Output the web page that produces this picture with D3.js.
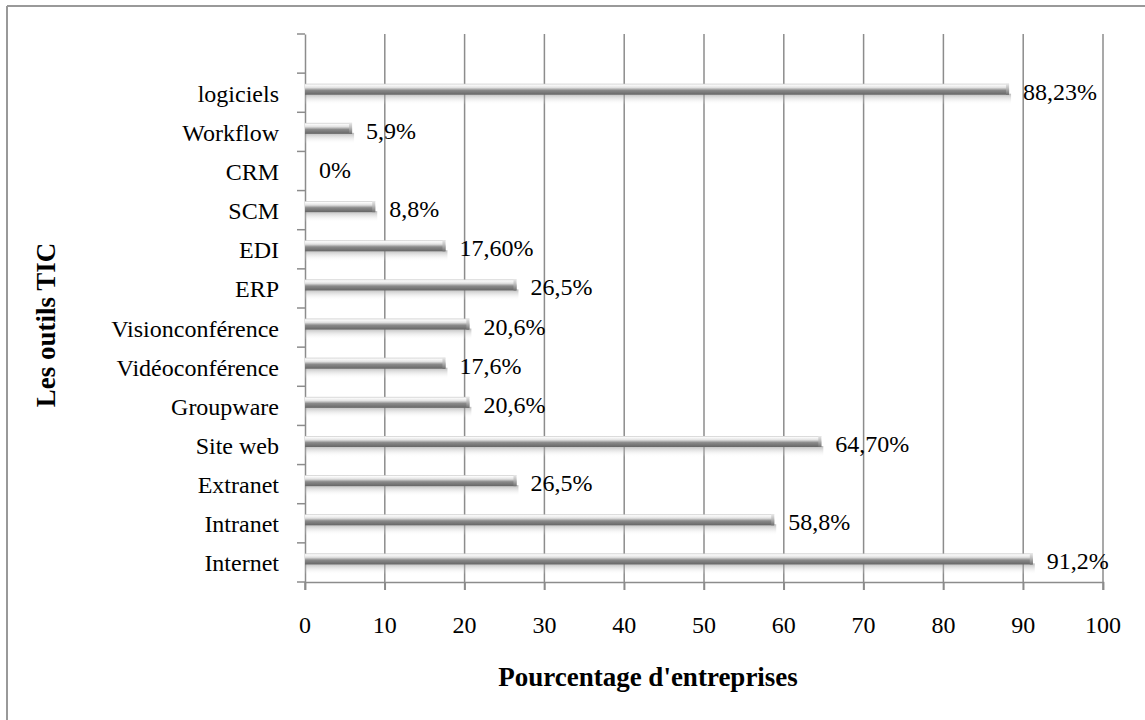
<!DOCTYPE html>
<html><head><meta charset="utf-8">
<script src="https://cdn.jsdelivr.net/npm/d3@7"></script>
<style>body{margin:0;background:#fff}svg{display:block}</style>
</head><body>
<svg id="c" width="1145" height="720"></svg>
<script>
const categories = ["", "logiciels", "Workflow", "CRM", "SCM", "EDI", "ERP", "Visionconférence", "Vidéoconférence", "Groupware", "Site web", "Extranet", "Intranet", "Internet"];
const values = [null, 88.23, 5.9, 0, 8.8, 17.6, 26.5, 20.6, 17.6, 20.6, 64.7, 26.5, 58.8, 91.2];
const valueLabels = ["", "88,23%", "5,9%", "0%", "8,8%", "17,60%", "26,5%", "20,6%", "17,6%", "20,6%", "64,70%", "26,5%", "58,8%", "91,2%"];
const xTicks = [0, 10, 20, 30, 40, 50, 60, 70, 80, 90, 100];
const xTitle = "Pourcentage d'entreprises";
const yTitle = "Les outils TIC";

const svg = d3.select("#c");
const SX = 1.0;
const FS = 24;
const font = "'Liberation Serif','Times New Roman',serif";
const grid = "#8c8c8c";

// outer frame
svg.append("line").attr("x1",7).attr("x2",1145).attr("y1",6).attr("y2",6).attr("stroke","#999").attr("stroke-width",2);
svg.append("line").attr("x1",7).attr("x2",7).attr("y1",6).attr("y2",720).attr("stroke","#999").attr("stroke-width",2);

const x = d3.scaleLinear().domain([0,100]).range([305,1103]);
const y = d3.scaleBand().domain(categories).range([34,582]);

const defs = svg.append("defs");
const g1 = defs.append("linearGradient").attr("id","bar").attr("x1",0).attr("x2",0).attr("y1",0).attr("y2",1);
[[0,"#c8c8c8"],[0.12,"#fbfbfb"],[0.35,"#e2e2e2"],[0.6,"#8a8a8a"],[1,"#666666"]].forEach(s=>g1.append("stop").attr("offset",s[0]).attr("stop-color",s[1]));
const g2 = defs.append("linearGradient").attr("id","shad").attr("x1",0).attr("x2",0).attr("y1",0).attr("y2",1);
g2.append("stop").attr("offset",0).attr("stop-color","#8a8a8a").attr("stop-opacity",0.6);
g2.append("stop").attr("offset",1).attr("stop-color","#ffffff").attr("stop-opacity",0);
const g3 = defs.append("linearGradient").attr("id","cap").attr("x1",0).attr("x2",0).attr("y1",0).attr("y2",1);
[[0,"#e8e8e8"],[0.4,"#c0c0c0"],[1,"#707070"]].forEach(s=>g3.append("stop").attr("offset",s[0]).attr("stop-color",s[1]));

// vertical gridlines
svg.append("g").selectAll("line").data(xTicks.slice(1)).join("line")
  .attr("x1",d=>x(d)).attr("x2",d=>x(d)).attr("y1",y.range()[0]).attr("y2",y.range()[1]+8)
  .attr("stroke",grid).attr("stroke-width",1.5);

// x axis
const xAxis = svg.append("g").attr("transform",`translate(0,${y.range()[1]})`)
  .call(d3.axisBottom(x).tickValues(xTicks).tickSize(8).tickFormat(""));
xAxis.select(".domain").attr("stroke",grid).attr("stroke-width",1.5);
xAxis.selectAll(".tick line").attr("stroke",grid).attr("stroke-width",1.5);

// y axis
const yAxis = svg.append("g").attr("transform",`translate(${x(0)},0)`)
  .call(d3.axisLeft(y).tickSize(0).tickFormat(""));
yAxis.select(".domain").attr("stroke",grid).attr("stroke-width",1.5);
const boundaries = categories.map(c=>y(c)).concat([y.range()[1]]);
svg.append("g").selectAll("line").data(boundaries).join("line")
  .attr("x1",x(0)-8).attr("x2",x(0)).attr("y1",d=>d).attr("y2",d=>d)
  .attr("stroke",grid).attr("stroke-width",1.5);
svg.append("line").attr("x1",x(0)).attr("x2",x(0)).attr("y1",y.range()[1]).attr("y2",y.range()[1]+8).attr("stroke",grid).attr("stroke-width",1.5);

// x tick labels
svg.append("g").selectAll("text").data(xTicks).join("text")
  .attr("transform",d=>`translate(${x(d)},633) scale(${SX},1)`)
  .attr("text-anchor","middle").attr("font-family",font).attr("font-size",FS).text(d=>d);

// y category labels
svg.append("g").selectAll("text").data(categories).join("text")
  .attr("transform",d=>`translate(279,${y(d)+y.bandwidth()/2+1}) scale(${SX},1)`)
  .attr("text-anchor","end").attr("dominant-baseline","central")
  .attr("font-family",font).attr("font-size",FS).text(d=>d);

// bars
const rows = categories.map((c,i)=>({c, v:values[i], lab:valueLabels[i]})).filter(d=>d.v!==null);
const bars = svg.append("g");
rows.forEach(d=>{
  const cy = y(d.c)+y.bandwidth()/2;
  const x0 = x(0), x1 = x(d.v);
  if (d.v > 0) {
    bars.append("rect").attr("x",x0).attr("y",cy+1).attr("width",x1-x0+2).attr("height",11).attr("fill","url(#shad)");
    bars.append("rect").attr("x",x0).attr("y",cy-9).attr("width",x1-x0).attr("height",11).attr("fill","url(#bar)");
    bars.append("rect").attr("x",x1-3).attr("y",cy-9).attr("width",3).attr("height",11).attr("fill","url(#cap)");
  }
});

// data labels
svg.append("g").selectAll("text").data(rows).join("text")
  .attr("transform",d=>`translate(${x(d.v)+14},${y(d.c)+y.bandwidth()/2-1}) scale(${SX},1)`)
  .attr("dominant-baseline","central").attr("font-family",font).attr("font-size",FS).text(d=>d.lab);

// axis titles
svg.append("text").attr("transform",`translate(648,686) scale(${SX},1)`)
  .attr("text-anchor","middle").attr("font-family",font).attr("font-weight","bold").attr("font-size",27).text(xTitle);
svg.append("text").attr("transform","translate(55,325) rotate(-90)")
  .attr("text-anchor","middle").attr("font-family",font).attr("font-weight","bold").attr("font-size",27).text(yTitle);
</script>
</body></html>
